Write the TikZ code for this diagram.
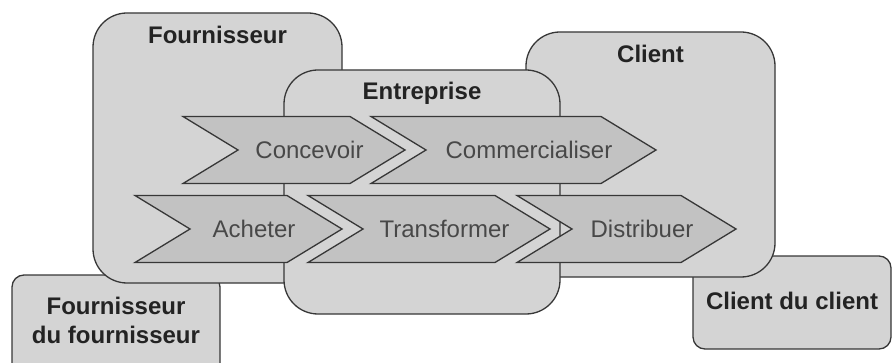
\documentclass[tikz,border=0pt]{standalone}
\usepackage{fontspec}
\setmainfont{Liberation Sans}
\usetikzlibrary{positioning}
\definecolor{boxgray}{RGB}{212,212,212}
\definecolor{stepgray}{RGB}{194,194,194}
\definecolor{edgegray}{RGB}{55,55,55}
\definecolor{labelgray}{RGB}{35,35,35}
\definecolor{steptext}{RGB}{72,72,72}
\tikzset{
    chain diagram/.style = {x=1pt, y=-1pt},
    actor/.style         = {draw=edgegray, line width=1.3pt, fill=boxgray,
                            rectangle, inner sep=0pt, outer sep=0pt},
    big actor/.style     = {actor, rounded corners=34pt},
    small actor/.style   = {actor, rounded corners=12pt},
    actor label/.style   = {font=\fontsize{24}{29}\selectfont\bfseries,
                            text=labelgray, inner sep=0pt, outer sep=0pt,
                            align=center},
    step shape/.style    = {draw=edgegray, line width=1.3pt, fill=stepgray,
                            line join=miter},
    step label/.style    = {font=\fontsize{24}{29}\selectfont,
                            text=steptext, inner sep=0pt}
}

\begin{document}
\begin{tikzpicture}[chain diagram]
\useasboundingbox (0,0) rectangle (893,363);
\clip (0,0) rectangle (893,363);

% ================= Outer partners =================
\node[small actor, minimum width=208pt, minimum height=105pt]
    (fdf) at (116,327.5) {};
\node[actor label, below=22pt of fdf.north] (fdf label)
    {Fournisseur\\du fournisseur};
\node[small actor, minimum width=198pt, minimum height=93pt]
    (cdc) at (792,302.5) {};
\node[actor label, yshift=2pt] (cdc label) at (cdc.center) {Client du client};

% ================= Direct partners =================
\node[big actor, minimum width=249pt, minimum height=270pt]
    (fournisseur) at (217.5,148) {};
\node[actor label, below=13pt of fournisseur.north] (fournisseur label)
    {Fournisseur};
\node[big actor, minimum width=249pt, minimum height=245pt]
    (client) at (650.5,154.5) {};
\node[actor label, below=13pt of client.north] (client label) {Client};

% ================= Company =================
\node[big actor, minimum width=276pt, minimum height=244pt]
    (entreprise) at (422,192) {};
\node[actor label, below=12pt of entreprise.north] (entreprise label)
    {Entreprise};

% ================= Process chevrons =================
\foreach \name/\lx/\rx/\y/\txt in {
    concevoir/183/350/150/Concevoir,
    commercialiser/371/601/150/Commercialiser,
    acheter/135/287/229/Acheter,
    transformer/308/495/229/Transformer,
    distribuer/517/681/229/Distribuer}{
  \draw[step shape] (\lx,\y-33.5) -- (\rx,\y-33.5) -- (\rx+55,\y)
      -- (\rx,\y+33.5) -- (\lx,\y+33.5) -- (\lx+55,\y) -- cycle;
  \node[step label] (\name) at ({(\lx+\rx)/2+43},\y) {\txt};
}

\end{tikzpicture}
\end{document}
